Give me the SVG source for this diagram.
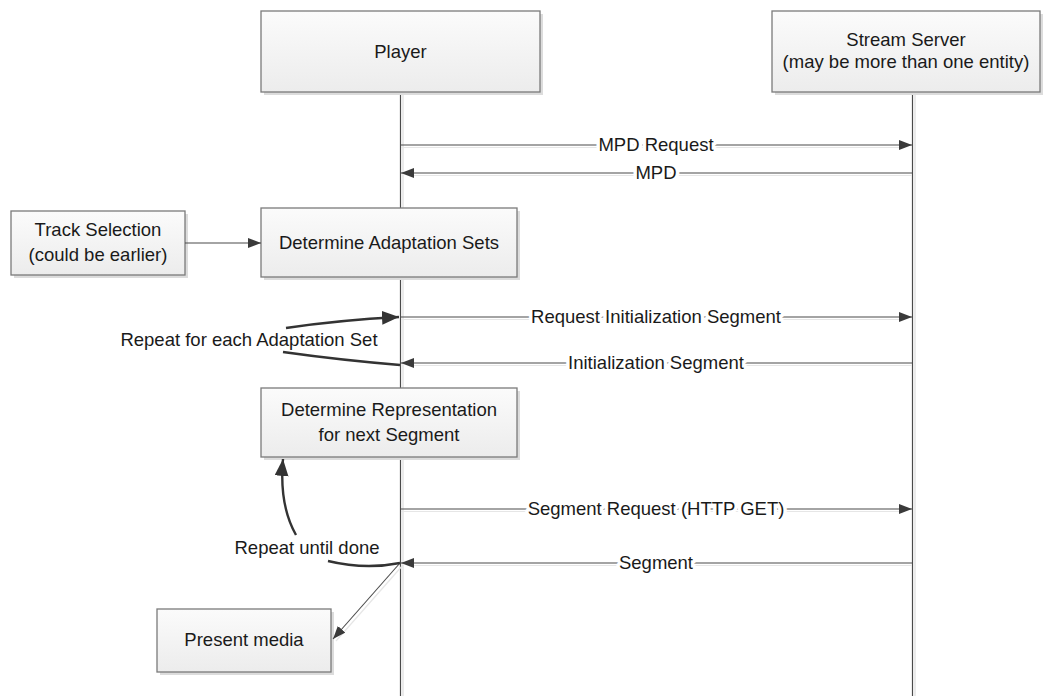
<svg xmlns="http://www.w3.org/2000/svg" width="1043" height="696" viewBox="0 0 1043 696">
<style>
.box{fill:url(#g);stroke:#7a7a7a;stroke-width:1.3}
.sh{fill:#dcdcdc}
text{font-family:"Liberation Sans",Arial,sans-serif;font-size:18.5px;fill:#1a1a1a;text-anchor:middle}
.lbl{paint-order:stroke;stroke:#fff;stroke-width:7px;stroke-linejoin:round}
.life{stroke:#4a4a4a;stroke-width:1.2;fill:none}
.lifesh{stroke:#dedede;stroke-width:1.2;fill:none}
.msg{stroke:#4a4a4a;stroke-width:1.1;fill:none;marker-end:url(#ah)}
.msgsh{stroke:#e6e6e6;stroke-width:1.2;fill:none}
.loop{stroke:#333;stroke-width:2.4;fill:none}
</style>
<defs>
<linearGradient id="g" x1="0" y1="0" x2="0" y2="1">
<stop offset="0" stop-color="#fbfbfb"/>
<stop offset="1" stop-color="#ececec"/>
</linearGradient>
<marker id="ah" markerUnits="userSpaceOnUse" markerWidth="14" markerHeight="11" refX="13" refY="5" orient="auto">
<path d="M0,0 L13,5 L0,10 z" fill="#3a3a3a"/>
</marker>
<marker id="ahb" markerUnits="userSpaceOnUse" markerWidth="18" markerHeight="15" refX="17" refY="7" orient="auto">
<path d="M0,0 L17,7 L0,14 z" fill="#333"/>
</marker>
</defs>
<rect width="1043" height="696" fill="#fff"/>

<g id="lifelines">
<line class="lifesh" x1="403" y1="92" x2="403" y2="696"/>
<line class="life" x1="400.5" y1="92" x2="400.5" y2="696"/>
<line class="lifesh" x1="915" y1="92" x2="915" y2="696"/>
<line class="life" x1="912.5" y1="92" x2="912.5" y2="696"/>
</g>

<g id="player">
<rect class="sh" x="264" y="14" width="279" height="81"/>
<rect class="box" x="261" y="11" width="279" height="81"/>
<text x="400.5" y="58">Player</text>
</g>

<g id="server">
<rect class="sh" x="775" y="14" width="268" height="81"/>
<rect class="box" x="772" y="11" width="268" height="81"/>
<text x="906" y="46">Stream Server</text>
<text x="906" y="68">(may be more than one entity)</text>
</g>

<g id="track">
<rect class="sh" x="14" y="214" width="174" height="64"/>
<rect class="box" x="11" y="211" width="174" height="64"/>
<text x="98" y="236">Track Selection</text>
<text x="98" y="261">(could be earlier)</text>
</g>

<g id="adapt">
<rect class="sh" x="264" y="211" width="256" height="69"/>
<rect class="box" x="261" y="208" width="256" height="69"/>
<text x="389" y="249">Determine Adaptation Sets</text>
</g>

<g id="repr">
<rect class="sh" x="264" y="391" width="256" height="69"/>
<rect class="box" x="261" y="388" width="256" height="69"/>
<text x="389" y="416">Determine Representation</text>
<text x="389" y="441">for next Segment</text>
</g>

<g id="present">
<rect class="sh" x="160" y="612" width="174" height="63"/>
<rect class="box" x="157" y="609" width="174" height="63"/>
<text x="244" y="646">Present media</text>
</g>

<g id="connectors">
<line class="msgsh" x1="401" y1="147.5" x2="905" y2="147.5"/>
<line class="msg" x1="401" y1="145" x2="912" y2="145"/>
<text class="lbl" x="656" y="151">MPD Request</text>
<line class="msgsh" x1="410" y1="175.5" x2="912" y2="175.5"/>
<line class="msg" x1="912" y1="173" x2="401" y2="173"/>
<text class="lbl" x="656" y="179">MPD</text>
<line class="msg" x1="185" y1="243" x2="261" y2="243"/>
<line class="msgsh" x1="401" y1="319.5" x2="905" y2="319.5"/>
<line class="msg" x1="401" y1="317" x2="912" y2="317"/>
<text class="lbl" x="656" y="323">Request Initialization Segment</text>
<line class="msgsh" x1="410" y1="365.5" x2="912" y2="365.5"/>
<line class="msg" x1="912" y1="363" x2="401" y2="363"/>
<text class="lbl" x="656" y="369">Initialization Segment</text>
<line class="msgsh" x1="401" y1="511.5" x2="905" y2="511.5"/>
<line class="msg" x1="401" y1="509" x2="912" y2="509"/>
<text class="lbl" x="656" y="515">Segment Request (HTTP GET)</text>
<line class="msgsh" x1="410" y1="565.5" x2="912" y2="565.5"/>
<line class="msg" x1="912" y1="563" x2="401" y2="563"/>
<text class="lbl" x="656" y="569">Segment</text>
<line class="msgsh" x1="403" y1="565" x2="336" y2="641"/>
<line class="msg" x1="400" y1="563" x2="333" y2="639"/>
<path class="loop" d="M286 328 Q340 320 399 317" marker-end="url(#ahb)"/>
<path class="loop" d="M400 365 Q340 360 283 352"/>
<path class="loop" d="M400 563 Q365 570 328 561"/>
<path class="loop" d="M296 535 Q279 505 283 459" marker-end="url(#ahb)"/>
<text x="249" y="346">Repeat for each Adaptation Set</text>
<text x="307" y="554">Repeat until done</text>
</g>
</svg>
